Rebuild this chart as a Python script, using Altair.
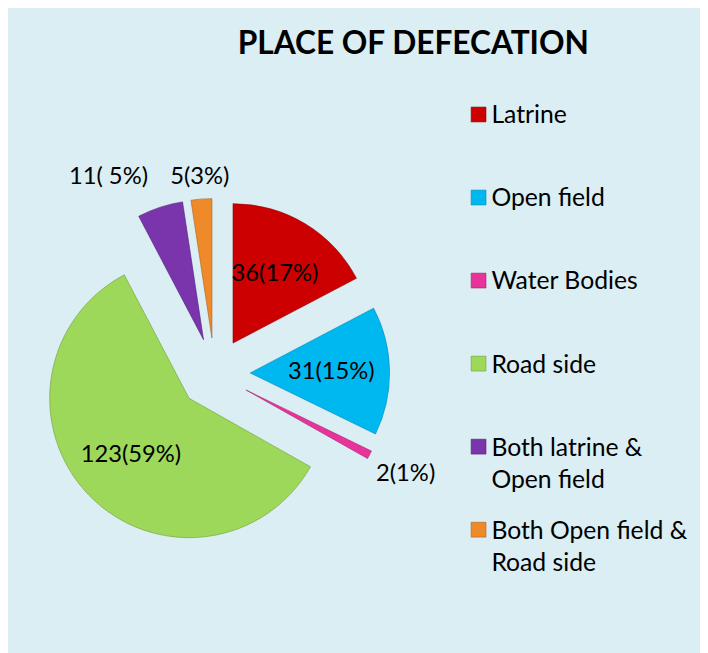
import altair as alt
import pandas as pd

categories = ["Latrine", "Open field", "Water Bodies", "Road side",
              "Both latrine & Open field", "Both Open field & Road side"]
values = [36, 31, 2, 123, 11, 5]
labels = ["36(17%)", "31(15%)", "2(1%)", "123(59%)", "11( 5%)", "5(3%)"]
colors = ["#CC0000", "#00B8F0", "#E8339A", "#9ED85A", "#7A35AC", "#EE8A2A"]
edge_colors = ["#8E0000", "#0086B3", "#A8206C", "#6E9E3A", "#4F1F72", "#B0601A"]
title_text = "PLACE OF DEFECATION"

df = pd.DataFrame({"cat": categories, "value": values, "label": labels,
                   "order": list(range(len(categories)))})

W, H = 700, 645
CX, CY = 209, 366   # pie centre (px)
R = 141             # outer radius
EXPLODE = 36        # explosion distance

color = alt.Color("cat:N", scale=alt.Scale(domain=categories, range=colors), legend=None)
stroke = alt.Stroke("cat:N", scale=alt.Scale(domain=categories, range=edge_colors), legend=None)

base = alt.Chart(df).transform_joinaggregate(
    total="sum(value)"
).transform_window(
    cum="sum(value)", sort=[alt.SortField("order")], frame=[None, 0]
).transform_calculate(
    a0="2*PI*(datum.cum - datum.value)/datum.total",
    a1="2*PI*datum.cum/datum.total",
).transform_calculate(
    mid="(datum.a0 + datum.a1)/2"
).transform_calculate(
    cx=f"{CX} + {EXPLODE}*sin(datum.mid)",
    cy=f"{CY} - {EXPLODE}*cos(datum.mid)",
    inside="datum.value/datum.total > 0.1",
    halfw="length(datum.label)*6",
)

arcs = base.mark_arc(outerRadius=R, strokeWidth=1, strokeOpacity=0.6).encode(
    x=alt.X("cx:Q", scale=None),
    y=alt.Y("cy:Q", scale=None),
    theta=alt.Theta("a0:Q", scale=None),
    theta2=alt.Theta2("a1:Q"),
    color=color,
    stroke=stroke,
)

lab = base.transform_calculate(
    dist=f"datum.inside ? 118 : ({R} + {EXPLODE} + 10 + datum.halfw*abs(sin(datum.mid)) + 10*abs(cos(datum.mid)))"
).transform_calculate(
    lx=f"{CX} + datum.dist*sin(datum.mid) - ((!datum.inside && sin(datum.mid) < -0.2) ? datum.halfw : 0)",
    ly=f"{CY} - datum.dist*cos(datum.mid)",
).mark_text(font="Lato", fontSize=24, color="#000000", align="center", baseline="middle").encode(
    x=alt.X("lx:Q", scale=None),
    y=alt.Y("ly:Q", scale=None),
    text="label:N",
)

leg = alt.Chart(df).transform_calculate(
    ly="104 + 84*datum.order",
    txt="replace(datum.cat, '& ', '&\\n')",
)
leg_sym = leg.mark_square(size=225, opacity=1, strokeWidth=1, strokeOpacity=0.6).encode(
    x=alt.value(476), y=alt.Y("ly:Q", scale=None), color=color, stroke=stroke
)
leg_txt = leg.mark_text(font="Lato", fontSize=25, align="left", baseline="alphabetic",
                        dy=9, lineBreak="\n", lineHeight=33, color="#000000").encode(
    x=alt.value(489), y=alt.Y("ly:Q", scale=None), text="txt:N"
)

title = alt.Chart(pd.DataFrame({"t": [title_text]})).mark_text(
    font="Lato", fontSize=32, fontWeight="bold", align="center", baseline="middle", color="#000000"
).encode(x=alt.value(410), y=alt.value(33), text="t:N")

chart = alt.layer(arcs, lab, leg_sym, leg_txt, title).properties(
    width=W, height=H, background="#DAEEF3", padding=0,
    autosize=alt.AutoSizeParams(type="none"),
).configure_view(stroke=None)

chart.save("out.html", embed_options={"renderer": "svg", "actions": False})
